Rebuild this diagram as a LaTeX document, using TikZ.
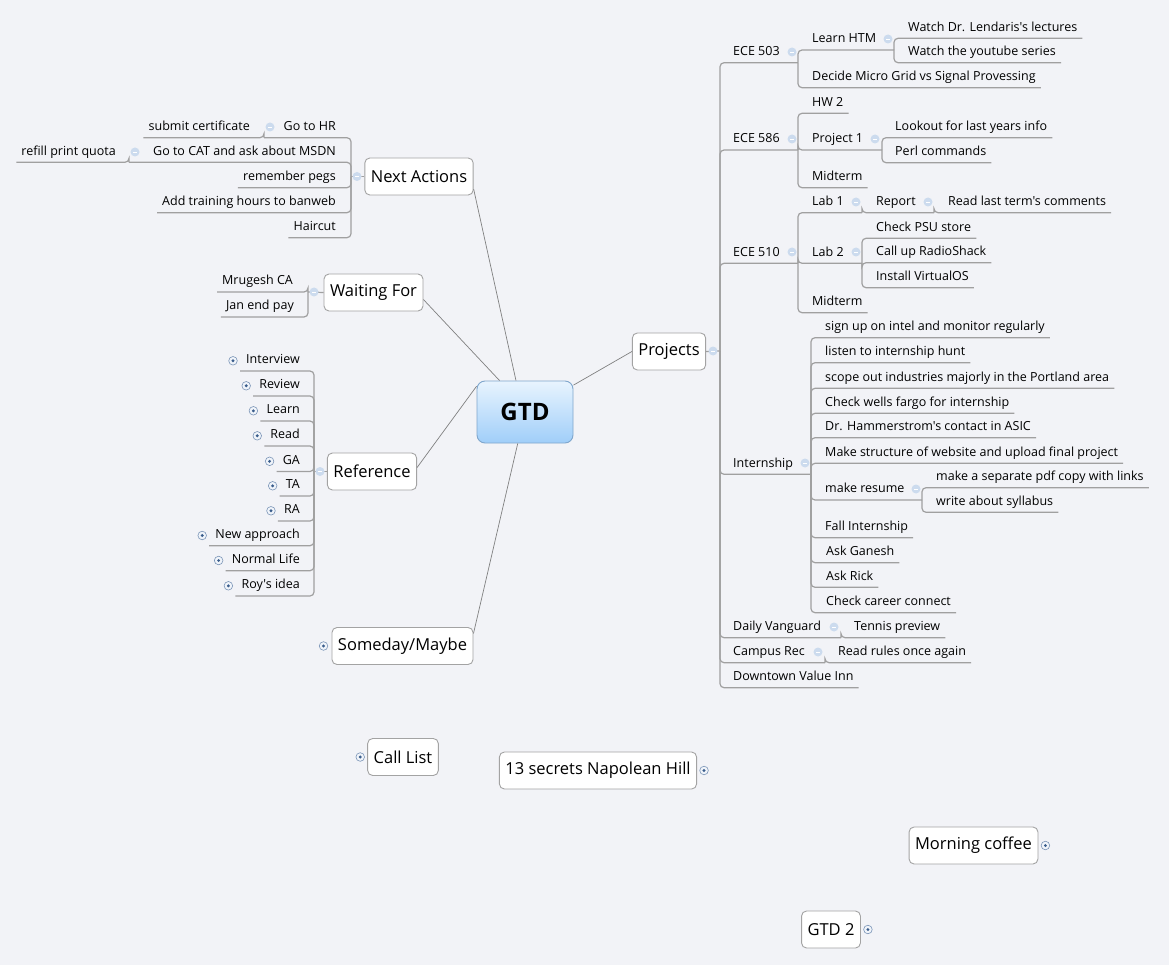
\documentclass[tikz,border=0pt]{standalone}
\usepackage{fontspec}
\setmainfont{Open Sans}[Ligatures=TeXOff]
\usepackage{xcolor}
\definecolor{canvas}{HTML}{F2F3F7}
\definecolor{branchline}{HTML}{A0A0A0}
\definecolor{spokeline}{HTML}{808080}
\definecolor{boxline}{HTML}{A3A3A3}
\definecolor{rootline}{HTML}{7FA6CC}
\definecolor{roottop}{HTML}{E8F4FE}
\definecolor{rootbottom}{HTML}{A0CEF9}
\definecolor{foldfill}{HTML}{CCDBEE}
\definecolor{unfoldring}{HTML}{7B95B7}
\definecolor{unfolddot}{HTML}{3A5D8C}
\usetikzlibrary{positioning}

\tikzset{
  rleaf/.style={font=\fontsize{12.5}{15}\selectfont, inner xsep=0pt, inner ysep=4pt,
    text height=9pt, text depth=3pt, anchor=south west},
  lleaf/.style={rleaf, anchor=south east},
  topic/.style={draw=boxline, fill=white, line width=0.9pt, rounded corners=5pt,
    font=\fontsize{16.5}{19}\selectfont, inner xsep=6pt, minimum height=37pt},
  root/.style={draw=rootline, top color=roottop, bottom color=rootbottom, line width=0.9pt,
    rounded corners=8pt, font=\fontsize{24}{28}\selectfont\bfseries,
    minimum width=96pt, minimum height=62pt},
  spoke/.style={draw=spokeline, line width=0.7pt},
  branch/.style={draw=branchline, line width=1.2pt, rounded corners=4pt},
  fold/.pic={\fill[foldfill] (0,0) circle (4.5pt);
    \draw[white, line width=0.8pt] (-2.2,0) -- (2.2,0);},
  unfold/.pic={\filldraw[fill=white!70!foldfill, draw=unfoldring, line width=0.6pt] (0,0) circle (4.3pt);
    \fill[unfolddot] (0,0) circle (1.6pt);}
}

\begin{document}
\begin{tikzpicture}[x=1pt, y=-1pt]

  \useasboundingbox (0,0) rectangle (1169,965);
  \fill[canvas] (0,0) rectangle (1169,965);

  % central topic and main topics
  \node[root] (gtd) at (525,412) {GTD};
  \node[topic] (nextact) at (419,176.5) {Next Actions};
  \node[topic] (waiting) at (373.5,292.5) {Waiting For};
  \node[topic] (reference) at (372,471.5) {Reference};
  \node[topic] (someday) at (402.5,646) {Someday/Maybe};
  \node[topic] (projects) at (669,351.5) {Projects};

  \draw[spoke] (gtd.106) -- (nextact.-13);
  \draw[spoke] (gtd.129) -- (waiting.-8);
  \draw[spoke] (gtd.152) -- (reference.5);
  \draw[spoke] (gtd.257) -- (someday.10);
  \draw[spoke] (gtd.29) -- (projects.west);

  % floating topics
  \node[topic] (calllist) at (403,757) {Call List};
  \node[topic] (secrets) at (598,770.5) {13 secrets Napolean Hill};
  \node[topic] (coffee) at (973.5,845.5) {Morning coffee};
  \node[topic] (gtdtwo) at (831,929.5) {GTD 2};

  % Projects
  \coordinate (proj-b) at (720,351);
  \draw[branch] (projects.east) -- (proj-b);

  \node[rleaf] (ece503) at (733,62.7) {ECE 503};
  \coordinate (ece503-b) at (798,62.7);
  \node[rleaf] (learnhtm) at (812,50) {Learn HTM};
  \coordinate (learnhtm-b) at (894,50);
  \node[rleaf] (lendaris) at (908,38.3) {Watch Dr. Lendaris's lectures};
  \node[rleaf] (youtube) at (908,62.7) {Watch the youtube series};
  \node[rleaf] (microgrid) at (812,87.7) {Decide Micro Grid vs Signal Provessing};

  \node[rleaf] (ece586) at (733,150) {ECE 586};
  \coordinate (ece586-b) at (798,150);
  \node[rleaf] (hwtwo) at (812,113.3) {HW 2};
  \node[rleaf] (projone) at (812,150) {Project 1};
  \coordinate (projone-b) at (882,150);
  \node[rleaf] (lookout) at (895,137.7) {Lookout for last years info};
  \node[rleaf] (perl) at (895,162.7) {Perl commands};
  \node[rleaf] (midone) at (812,187.7) {Midterm};

  \node[rleaf] (ece510) at (733,263.3) {ECE 510};
  \coordinate (ece510-b) at (798,263.3);
  \node[rleaf] (labone) at (812,212.7) {Lab 1};
  \coordinate (labone-b) at (862,212.7);
  \node[rleaf] (report) at (876,212.7) {Report};
  \coordinate (report-b) at (934,212.7);
  \node[rleaf] (comments) at (948,212.7) {Read last term's comments};
  \node[rleaf] (labtwo) at (812,263.3) {Lab 2};
  \coordinate (labtwo-b) at (862,263.3);
  \node[rleaf] (psu) at (876,238.3) {Check PSU store};
  \node[rleaf] (radioshack) at (876,262.7) {Call up RadioShack};
  \node[rleaf] (virtualos) at (876,287.7) {Install VirtualOS};
  \node[rleaf] (midtwo) at (812,312.7) {Midterm};

  \node[rleaf] (intern) at (733,474.3) {Internship};
  \coordinate (intern-b) at (811,474.3);
  \node[rleaf] (intel) at (825,337.7) {sign up on intel and monitor regularly};
  \node[rleaf] (hunt) at (825,362.7) {listen to internship hunt};
  \node[rleaf] (scope) at (825,388.3) {scope out industries majorly in the Portland area};
  \node[rleaf] (wells) at (825,413.3) {Check wells fargo for internship};
  \node[rleaf] (hammer) at (825,437.7) {Dr. Hammerstrom's contact in ASIC};
  \node[rleaf] (website) at (825,463.3) {Make structure of website and upload final project};
  \node[rleaf] (resume) at (825,500) {make resume};
  \coordinate (resume-b) at (922,500);
  \node[rleaf] (pdfcopy) at (936,487.7) {make a separate pdf copy with links};
  \node[rleaf] (syllabus) at (936,512.3) {write about syllabus};
  \node[rleaf] (fall) at (825,537.7) {Fall Internship};
  \node[rleaf] (ganesh) at (826,562.7) {Ask Ganesh};
  \node[rleaf] (rick) at (826,587.3) {Ask Rick};
  \node[rleaf] (career) at (826,612.7) {Check career connect};

  \node[rleaf] (vanguard) at (733,637.7) {Daily Vanguard};
  \coordinate (vanguard-b) at (841,637.7);
  \node[rleaf] (tennis) at (854,637.7) {Tennis preview};
  \node[rleaf] (campus) at (733,662.7) {Campus Rec};
  \coordinate (campus-b) at (825,662.7);
  \node[rleaf] (rules) at (838,662.7) {Read rules once again};
  \node[rleaf] (downtown) at (733,687.7) {Downtown Value Inn};

  \draw[branch] (proj-b) |- (ece503-b);
  \draw[branch] (ece503-b) |- (learnhtm-b);
  \draw[branch] (learnhtm-b) |- ([xshift=5pt]lendaris.south east);
  \draw[branch] (learnhtm-b) |- ([xshift=5pt]youtube.south east);
  \draw[branch] (ece503-b) |- ([xshift=5pt]microgrid.south east);
  \draw[branch] (proj-b) |- (ece586-b);
  \draw[branch] (ece586-b) |- ([xshift=5pt]hwtwo.south east);
  \draw[branch] (ece586-b) |- (projone-b);
  \draw[branch] (projone-b) |- ([xshift=5pt]lookout.south east);
  \draw[branch] (projone-b) |- ([xshift=5pt]perl.south east);
  \draw[branch] (ece586-b) |- ([xshift=5pt]midone.south east);
  \draw[branch] (proj-b) |- (ece510-b);
  \draw[branch] (ece510-b) |- (labone-b);
  \draw[branch] (labone-b) |- (report-b);
  \draw[branch] (report-b) |- ([xshift=5pt]comments.south east);
  \draw[branch] (ece510-b) |- (labtwo-b);
  \draw[branch] (labtwo-b) |- ([xshift=5pt]psu.south east);
  \draw[branch] (labtwo-b) |- ([xshift=5pt]radioshack.south east);
  \draw[branch] (labtwo-b) |- ([xshift=5pt]virtualos.south east);
  \draw[branch] (ece510-b) |- ([xshift=5pt]midtwo.south east);
  \draw[branch] (proj-b) |- (intern-b);
  \draw[branch] (intern-b) |- ([xshift=5pt]intel.south east);
  \draw[branch] (intern-b) |- ([xshift=5pt]hunt.south east);
  \draw[branch] (intern-b) |- ([xshift=5pt]scope.south east);
  \draw[branch] (intern-b) |- ([xshift=5pt]wells.south east);
  \draw[branch] (intern-b) |- ([xshift=5pt]hammer.south east);
  \draw[branch] (intern-b) |- ([xshift=5pt]website.south east);
  \draw[branch] (intern-b) |- (resume-b);
  \draw[branch] (resume-b) |- ([xshift=5pt]pdfcopy.south east);
  \draw[branch] (resume-b) |- ([xshift=5pt]syllabus.south east);
  \draw[branch] (intern-b) |- ([xshift=5pt]fall.south east);
  \draw[branch] (intern-b) |- ([xshift=5pt]ganesh.south east);
  \draw[branch] (intern-b) |- ([xshift=5pt]rick.south east);
  \draw[branch] (intern-b) |- ([xshift=5pt]career.south east);
  \draw[branch] (proj-b) |- (vanguard-b);
  \draw[branch] (vanguard-b) |- ([xshift=5pt]tennis.south east);
  \draw[branch] (proj-b) |- (campus-b);
  \draw[branch] (campus-b) |- ([xshift=5pt]rules.south east);
  \draw[branch] (proj-b) |- ([xshift=5pt]downtown.south east);

  % Next Actions
  \coordinate (nextact-b) at (351,176.5);
  \draw[branch] (nextact.west) -- (nextact-b);
  \node[lleaf] (gotohr) at (336,137.7) {Go to HR};
  \coordinate (gotohr-b) at (264,137.7);
  \node[lleaf] (submit) at (250,137.7) {submit certificate};
  \node[lleaf] (gotocat) at (336,162.3) {Go to CAT and ask about MSDN};
  \coordinate (gotocat-b) at (129,162.3);
  \node[lleaf] (refill) at (116,162.3) {refill print quota};
  \node[lleaf] (pegs) at (336,187.7) {remember pegs};
  \node[lleaf] (banweb) at (336,212.7) {Add training hours to banweb};
  \node[lleaf] (haircut) at (336,237.7) {Haircut};

  \draw[branch] (nextact-b) |- (gotohr-b);
  \draw[branch] (gotohr-b) |- ([xshift=-5pt]submit.south west);
  \draw[branch] (nextact-b) |- (gotocat-b);
  \draw[branch] (gotocat-b) |- ([xshift=-5pt]refill.south west);
  \draw[branch] (nextact-b) |- ([xshift=-5pt]pegs.south west);
  \draw[branch] (nextact-b) |- ([xshift=-5pt]banweb.south west);
  \draw[branch] (nextact-b) |- ([xshift=-5pt]haircut.south west);

  % Waiting For
  \coordinate (waiting-b) at (308,292);
  \draw[branch] (waiting.west) -- (waiting-b);
  \node[lleaf] (mrugesh) at (293,292) {Mrugesh CA};
  \node[lleaf] (janpay) at (294,317) {Jan end pay};
  \draw[branch] (waiting-b) |- ([xshift=-5pt]mrugesh.south west);
  \draw[branch] (waiting-b) |- ([xshift=-5pt]janpay.south west);

  % Reference
  \coordinate (reference-b) at (314,471.5);
  \draw[branch] (reference.west) -- (reference-b);
  \node[lleaf] (interview) at (300,371) {Interview};
  \node[lleaf] (review) at (300,396) {Review};
  \node[lleaf] (learn) at (300,421) {Learn};
  \node[lleaf] (read) at (300,446) {Read};
  \node[lleaf] (ga) at (300,471.5) {GA};
  \node[lleaf] (ta) at (300,496) {TA};
  \node[lleaf] (ra) at (300,521) {RA};
  \node[lleaf] (approach) at (300,545.7) {New approach};
  \node[lleaf] (normal) at (300,570.7) {Normal Life};
  \node[lleaf] (roy) at (300,596) {Roy's idea};

  \draw[branch] (reference-b) |- ([xshift=-6pt]interview.south west);
  \draw[branch] (reference-b) |- ([xshift=-6pt]review.south west);
  \draw[branch] (reference-b) |- ([xshift=-6pt]learn.south west);
  \draw[branch] (reference-b) |- ([xshift=-6pt]read.south west);
  \draw[branch] (reference-b) |- ([xshift=-6pt]ga.south west);
  \draw[branch] (reference-b) |- ([xshift=-6pt]ta.south west);
  \draw[branch] (reference-b) |- ([xshift=-6pt]ra.south west);
  \draw[branch] (reference-b) |- ([xshift=-6pt]approach.south west);
  \draw[branch] (reference-b) |- ([xshift=-6pt]normal.south west);
  \draw[branch] (reference-b) |- ([xshift=-6pt]roy.south west);

  % fold / unfold markers
  \pic at (713,351) {fold};
  \pic at (792,52) {fold};
  \pic at (888,39) {fold};
  \pic at (792,139) {fold};
  \pic at (875,139) {fold};
  \pic at (792,252) {fold};
  \pic at (856,202) {fold};
  \pic at (928,202) {fold};
  \pic at (856,252) {fold};
  \pic at (805,463) {fold};
  \pic at (916,489) {fold};
  \pic at (834,627) {fold};
  \pic at (818,652) {fold};
  \pic at (357,176.5) {fold};
  \pic at (270,127) {fold};
  \pic at (135,152) {fold};
  \pic at (314,292) {fold};
  \pic at (320,471.5) {fold};

  \pic at ([xshift=-13pt]interview.west) {unfold};
  \pic at ([xshift=-13pt]review.west) {unfold};
  \pic at ([xshift=-13pt]learn.west) {unfold};
  \pic at ([xshift=-13pt]read.west) {unfold};
  \pic at ([xshift=-13pt]ga.west) {unfold};
  \pic at ([xshift=-13pt]ta.west) {unfold};
  \pic at ([xshift=-13pt]ra.west) {unfold};
  \pic at ([xshift=-13pt]approach.west) {unfold};
  \pic at ([xshift=-13pt]normal.west) {unfold};
  \pic at ([xshift=-13pt]roy.west) {unfold};
  \pic at ([xshift=-8pt]someday.west) {unfold};
  \pic at ([xshift=-7pt]calllist.west) {unfold};
  \pic at ([xshift=7pt]secrets.east) {unfold};
  \pic at ([xshift=7pt]coffee.east) {unfold};
  \pic at ([xshift=7pt]gtdtwo.east) {unfold};

\end{tikzpicture}
\end{document}
